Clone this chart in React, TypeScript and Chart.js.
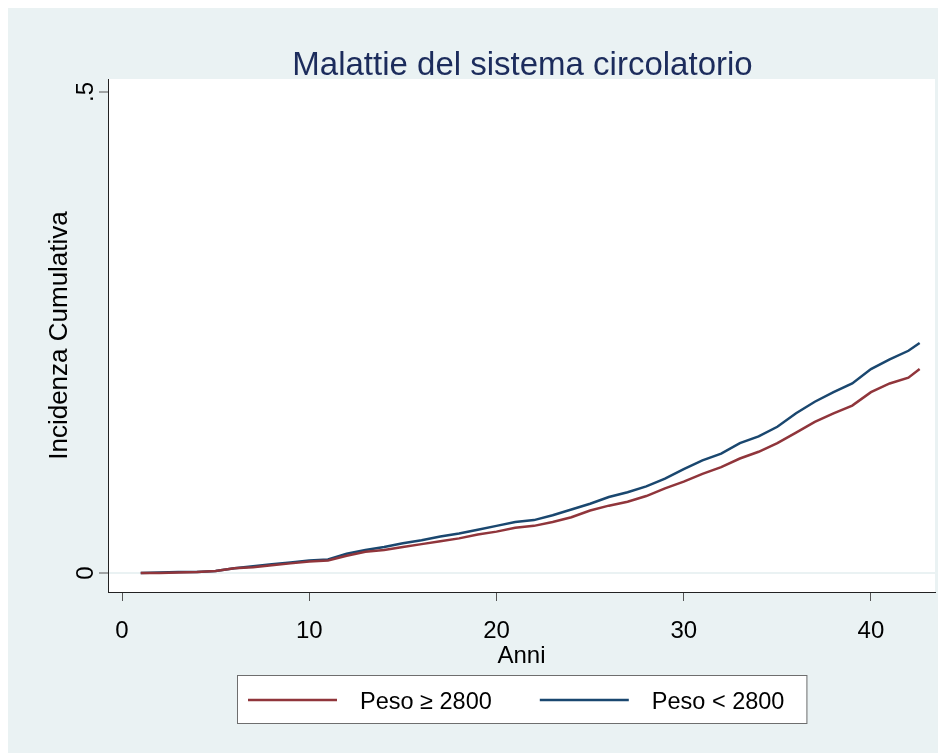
import React, { useEffect, useRef } from "react";
import { Chart, registerables } from "chart.js";

Chart.register(...registerables);

// ---- data ----
const anni = [
  1, 2, 3, 4, 5, 6, 7, 8, 9, 10, 11, 12, 13, 14, 15, 16, 17, 18, 19, 20, 21,
  22, 23, 24, 25, 26, 27, 28, 29, 30, 31, 32, 33, 34, 35, 36, 37, 38, 39, 40,
  41, 42, 42.6,
];
// Peso >= 2800 (maroon)
const pesoAlto = [
  0.0, 0.0, 0.0005, 0.001, 0.002, 0.005, 0.006, 0.008, 0.01, 0.012, 0.013,
  0.018, 0.022, 0.024, 0.027, 0.03, 0.033, 0.036, 0.04, 0.043, 0.047, 0.049,
  0.053, 0.058, 0.065, 0.07, 0.074, 0.08, 0.088, 0.095, 0.103, 0.11, 0.119,
  0.126, 0.135, 0.146, 0.157, 0.166, 0.174, 0.188, 0.197, 0.203, 0.212,
];
// Peso < 2800 (navy)
const pesoBasso = [
  0.0, 0.0005, 0.001, 0.001, 0.002, 0.005, 0.007, 0.009, 0.011, 0.013, 0.014,
  0.02, 0.024, 0.027, 0.031, 0.034, 0.038, 0.041, 0.045, 0.049, 0.053, 0.055,
  0.06, 0.066, 0.072, 0.079, 0.084, 0.09, 0.098, 0.108, 0.117, 0.124, 0.135,
  0.142, 0.152, 0.166, 0.178, 0.188, 0.197, 0.212, 0.222, 0.231, 0.239,
];
const xTicks = [0, 10, 20, 30, 40];
const yTicks = [0, 0.5];
const yTickLabels = ["0", ".5"];
const titolo = "Malattie del sistema circolatorio";
const etichette = ["Peso \u2265 2800", "Peso < 2800"];
const asseX = "Anni";
const asseY = "Incidenza Cumulativa";

// ---- styles ----
const BG = "#eaf2f3";
const MAROON = "#90353b";
const NAVY = "#1a476f";
const TITLE_COLOR = "#1c2c5c";
const FONT = "'Liberation Sans', Arial, sans-serif";

const backgroundPlugin = {
  id: "stataBackground",
  beforeDraw(chart: any) {
    const { ctx, width, height, chartArea } = chart;
    ctx.save();
    ctx.fillStyle = "#ffffff";
    ctx.fillRect(0, 0, width, height);
    ctx.fillStyle = BG;
    ctx.fillRect(8, 8, width - 8, height - 8);
    ctx.fillStyle = "#ffffff";
    ctx.fillRect(
      chartArea.left,
      chartArea.top,
      chartArea.right - chartArea.left,
      chartArea.bottom - chartArea.top
    );
    ctx.restore();
  },
};

const titlePlugin = {
  id: "stataTitle",
  afterDraw(chart: any) {
    const { ctx, chartArea } = chart;
    ctx.save();
    ctx.font = `33px ${FONT}`;
    ctx.fillStyle = TITLE_COLOR;
    ctx.textAlign = "center";
    ctx.textBaseline = "alphabetic";
    ctx.fillText(titolo, (chartArea.left + chartArea.right) / 2 + 1, 75);
    ctx.restore();
  },
};

const legendPlugin = {
  id: "stataLegend",
  afterDraw(chart: any) {
    const { ctx, chartArea } = chart;
    const items = chart.data.datasets.map((d: any) => ({
      label: d.label as string,
      color: d.borderColor as string,
      lw: d.borderWidth as number,
    }));
    ctx.save();
    ctx.font = `23.5px ${FONT}`;
    const lineLen = 89;
    const gapText = 23;
    const gapItem = 48;
    const padL = 11;
    const padR = 22;
    const widths = items.map((it: any) => ctx.measureText(it.label).width);
    let total = padL + padR;
    items.forEach((_: any, i: number) => {
      total += lineLen + gapText + widths[i] + (i > 0 ? gapItem : 0);
    });
    const cx = (chartArea.left + chartArea.right) / 2;
    const top = 675;
    const h = 48;
    const x0 = Math.round(cx - total / 2);
    ctx.fillStyle = "#ffffff";
    ctx.fillRect(x0, top, total, h);
    ctx.strokeStyle = "#6e6e6e";
    ctx.lineWidth = 1;
    ctx.strokeRect(x0 + 0.5, top + 0.5, total, h);
    let x = x0 + padL;
    const yLine = top + 25;
    items.forEach((it: any, i: number) => {
      ctx.strokeStyle = it.color;
      ctx.lineWidth = it.lw;
      ctx.beginPath();
      ctx.moveTo(x, yLine);
      ctx.lineTo(x + lineLen, yLine);
      ctx.stroke();
      x += lineLen + gapText;
      ctx.fillStyle = "#000000";
      ctx.textAlign = "left";
      ctx.textBaseline = "middle";
      ctx.fillText(it.label, x, yLine + 3);
      x += widths[i] + gapItem;
    });
    ctx.restore();
  },
};

export default function App() {
  const ref = useRef<HTMLCanvasElement | null>(null);

  useEffect(() => {
    document.body.style.margin = "0";
    if (!ref.current) return;
    const chart = new Chart(ref.current, {
      type: "line",
      data: {
        datasets: [
          {
            label: etichette[0],
            data: anni.map((a, i) => ({ x: a, y: pesoAlto[i] })),
            borderColor: MAROON,
            borderWidth: 2.5,
            pointRadius: 0,
            tension: 0,
            fill: false,
          },
          {
            label: etichette[1],
            data: anni.map((a, i) => ({ x: a, y: pesoBasso[i] })),
            borderColor: NAVY,
            borderWidth: 2.5,
            pointRadius: 0,
            tension: 0,
            fill: false,
          },
        ],
      },
      options: {
        animation: false,
        responsive: false,
        devicePixelRatio: 1,
        layout: { padding: { left: 0, right: 3, top: 79, bottom: 81 } },
        plugins: {
          legend: { display: false },
          title: { display: false },
          tooltip: { enabled: false },
        },
        scales: {
          x: {
            type: "linear",
            min: -0.748,
            max: 43.42,
            afterBuildTicks: (s: any) => {
              s.ticks = xTicks.map((v) => ({ value: v }));
            },
            afterFit: (s: any) => {
              s.height = 80;
            },
            ticks: {
              color: "#000000",
              font: { family: FONT, size: 24 },
              padding: 16,
              maxRotation: 0,
              autoSkip: false,
            },
            grid: {
              drawOnChartArea: false,
              drawTicks: true,
              tickLength: 9,
              tickColor: "#555555",
              tickWidth: 1,
            },
            border: { display: true, color: "#222222", width: 1 },
            title: {
              display: true,
              text: asseX,
              color: "#000000",
              font: { family: FONT, size: 24 },
              padding: { top: 0, bottom: 1 },
            },
          },
          y: {
            type: "linear",
            min: -0.01975,
            max: 0.5135,
            afterBuildTicks: (s: any) => {
              s.ticks = yTicks.map((v) => ({ value: v }));
            },
            afterFit: (s: any) => {
              s.width = 108;
            },
            ticks: {
              color: "#000000",
              font: { family: FONT, size: 24 },
              padding: 3,
              minRotation: 90,
              maxRotation: 90,
              crossAlign: "center",
              autoSkip: false,
              callback: (v: any) => {
                const i = yTicks.indexOf(Number(v));
                return i >= 0 ? yTickLabels[i] : "";
              },
            },
            grid: {
              drawOnChartArea: true,
              drawTicks: true,
              tickLength: 9,
              tickColor: "#555555",
              tickWidth: 1,
              lineWidth: 2,
              color: (c: any) =>
                c.tick && c.tick.value === 0 ? BG : "rgba(0,0,0,0)",
            },
            border: { display: true, color: "#222222", width: 1 },
            title: {
              display: true,
              text: asseY,
              color: "#000000",
              font: { family: FONT, size: 26 },
              padding: { top: 44, bottom: 0 },
            },
          },
        },
      },
      plugins: [backgroundPlugin, titlePlugin, legendPlugin],
    });
    return () => chart.destroy();
  }, []);

  return (
    <div style={{ width: 938, height: 753 }}>
      <canvas ref={ref} width={938} height={753} style={{ display: "block" }} />
    </div>
  );
}
